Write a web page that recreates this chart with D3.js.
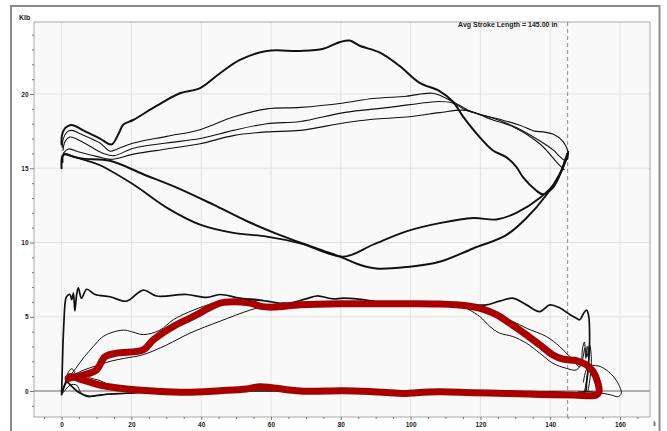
<!DOCTYPE html>
<html>
<head>
<meta charset="utf-8">
<script src="https://cdn.jsdelivr.net/npm/d3@7"></script>
<style>
  html, body { margin: 0; padding: 0; background: #fff; }
  svg { display: block; font-family: "Liberation Sans", Arial, sans-serif; }
</style>
</head>
<body>
<svg id="chart" width="667" height="431"></svg>
<script>
// ---- Axis ticks ----
const xMajorTicks = [0, 20, 40, 60, 80, 100, 120, 140, 160];
const yMajorTicks = [0, 5, 10, 15, 20];
const avgStroke = 145.0;

// ---- Surface cards (position in, load Klb) ----
const surfacePeak = [[0,16.6],[0.1,17.2],[1,17.7],[2.4,17.9],[3.9,17.85],[5.8,17.6],[11,17.0],[14.3,16.6],[16.3,17.3],[17.7,17.95],[20.5,18.25],[27.2,19.2],[33.9,20.05],[39.7,20.4],[45.4,21.4],[51.1,22.3],[58.8,22.9],[68.4,22.9],[75,23.05],[79.8,23.5],[82.5,23.6],[85.4,23.25],[91.1,22.8],[96.8,21.9],[102.6,20.75],[108.3,20.2],[112.1,19.5],[115,18.5],[119.8,17.1],[123.6,16.2],[127.4,15.75],[130.3,15.1],[132.2,14.4],[136,13.5],[137.9,13.25],[140.8,13.7],[143.2,14.8],[144.6,15.75],[145,16.0]];
const surfaceMid1 = [[0.2,16.4],[0.5,17.0],[1.6,17.45],[2.9,17.55],[5.5,17.3],[11,16.7],[13.9,16.15],[16,16.3],[20.6,16.7],[30.1,17.15],[39.7,17.6],[49.2,18.45],[58.8,19.0],[68.4,19.1],[80.8,19.4],[89.2,19.7],[98.8,19.85],[106.4,20.05],[112,19.5],[118,18.75],[125.5,18.3],[131.3,17.9],[135.5,17.5],[138,17.45],[140.8,17.3],[143.7,16.8],[145.1,16.1],[145,15.6]];
const surfaceMid2 = [[0.4,16.2],[1,16.8],[2.4,17.1],[4,17.0],[8,16.5],[12,16.0],[15,15.85],[20.6,16.35],[30.1,16.7],[39.7,17.0],[49.2,17.55],[58.8,18.0],[68.4,18.15],[80.8,18.75],[94,19.1],[108.3,19.5],[112,19.4],[116,18.9],[122.7,18.45],[130.3,17.75],[137,16.85],[141,16.2],[142.7,15.8],[144.2,15.5]];
const surfaceMid3 = [[0.5,16.0],[2,16.3],[5,16.1],[10,15.8],[14,15.6],[20.6,15.95],[30.1,16.3],[39.7,16.65],[49.2,17.2],[58.8,17.45],[68.4,17.55],[80.8,18.05],[89.2,18.3],[98.8,18.45],[108.3,18.75],[116,18.9],[123.6,18.25],[129.3,17.8],[137,16.65],[142.3,15.3],[144,14.9]];
const surfaceLow1 = [[0,15.0],[0.3,15.85],[1.4,15.95],[3,15.8],[6.2,15.65],[13.9,15.5],[23.4,14.6],[33,13.7],[43.5,12.55],[53,11.45],[62.6,10.5],[73.1,9.6],[80.8,8.95],[85.4,8.5],[90.2,8.25],[98.8,8.35],[108.3,8.7],[117.9,9.6],[127.4,10.5],[133.2,11.65],[138.9,13.2],[142.7,14.6],[144.6,15.6],[145,16.0]];
const surfaceLow2 = [[0.3,15.4],[0.6,15.95],[2.5,15.85],[6,15.6],[11,15.2],[20.6,13.9],[30.1,12.35],[39.7,11.2],[49.2,10.65],[58.8,10.4],[68.4,9.95],[80.8,9.05],[89.2,9.85],[98.8,10.75],[108.3,11.3],[117.9,11.65],[124.6,11.55],[130.3,12.0],[137,13.0],[141.8,14.15],[144.6,15.75],[145.2,16.1]];

// ---- Downhole cards ----
const downholeTop = [[0,-0.25],[0.2,1.5],[0.4,3.2],[0.7,4.8],[1.0,5.9],[1.4,6.35],[2.4,6.5],[2.9,6.15],[3.4,6.6],[3.8,5.4],[4.3,6.45],[4.8,6.95],[5.7,6.25],[7.2,6.85],[9.6,6.5],[13.9,6.35],[18.6,6.05],[23.4,6.8],[27.2,6.4],[35.8,6.5],[41.6,6.3],[45.4,6.5],[51.1,6.25],[58.8,6.05],[64.5,5.9],[70,6.2],[73.1,6.4],[77.9,6.2],[80.8,6.25],[89.2,6.05],[94,5.8],[98.8,5.9],[108.3,5.9],[117.9,5.8],[121.7,5.8],[125.5,6.05],[129.3,6.25],[133.2,5.8],[137,5.35],[139.9,5.8],[142.7,5.6],[145.6,5.15],[147.5,4.9],[148.5,4.8],[149.5,5.2],[150.4,5.45],[151,5.1],[151.3,3.5],[151,1.8],[150.4,0.5],[150,-0.05],[140,-0.05],[130,-0.1],[120,-0.1],[110,-0.05],[100,0],[90,-0.05],[80,0],[60,0],[45,0],[35,-0.05],[25,-0.05],[18.6,-0.15],[13.9,-0.2],[10.2,-0.3],[7.6,-0.35],[5,-0.1],[3,0.3],[1.5,0.6],[0.6,0.2],[0,-0.25]];
const downholeMid1 = [[0.5,0.3],[2,0.9],[4,1.5],[6.5,2.3],[9.1,3.0],[11.5,3.6],[13.9,3.9],[17.7,4.1],[20,4.0],[23.4,3.8],[28.2,4.1],[32,4.8],[37.8,5.45],[43.5,5.9],[49.2,6.1],[55,6.2],[58,6.1]];
const downholeMid2 = [[1,0.6],[3,1.0],[6.2,1.4],[10,1.7],[13.9,2.0],[18,2.2],[23.4,2.45],[30.1,3.1],[36.8,3.9],[45.4,4.7],[54,5.45],[58.8,5.75],[64,5.95]];
const downholeDown1 = [[116,5.8],[120.7,5.36],[124.6,5.02],[129.3,4.68],[133.2,4.23],[138.9,3.67],[142.7,3.0],[145.6,2.32],[148.5,1.64],[149.3,2.9],[149.8,3.3],[150.2,2.2],[150.6,3.0],[151,2.4],[150.5,0.8],[149.8,-0.05]];
const downholeDown2 = [[114,5.85],[119.8,5.02],[122.7,4.35],[125.5,3.9],[129.3,3.67],[133.2,3.22],[137,2.55],[140.8,1.87],[144.6,1.53],[147.5,1.42],[149,1.9],[150,2.9],[150.5,2.3],[151.3,3.1],[151.8,2.2],[151.5,1.0],[150.8,-0.05]];
const downholeTail = [[149.5,0.6],[150.9,1.64],[153.7,1.69],[156.1,1.42],[158.5,0.86],[159.9,0.29],[160.4,-0.16],[159.5,-0.38],[157.5,-0.27],[155.2,-0.16],[152,-0.05],[148,-0.05]];
const downholeStart1 = [[0.2,-0.2],[1,0.5],[2,1.3],[3,1.5],[4.3,1.1],[6.2,1.2],[8,0.9],[11,0.7],[13.9,0.4],[17,0.2],[22,0.05]];
const downholeStart2 = [[0.5,-0.1],[2.5,0.4],[4.3,0.4],[5.5,-0.1],[7.2,-0.38],[9,-0.35],[11,-0.27],[14,-0.2],[18.6,-0.15],[25,-0.1]];

// ---- Highlighted downhole card ----
const currentCard = [[1.9,0.85],[6.2,1.08],[10,1.42],[12.4,2.3],[15.8,2.55],[23.4,2.77],[26.3,3.45],[32,4.35],[37.8,5.02],[43.5,5.74],[46.4,5.97],[54,5.92],[57,5.7],[60.7,5.65],[68.4,5.81],[80.8,5.88],[89.2,5.88],[98.8,5.88],[108.3,5.86],[116,5.74],[120.7,5.52],[124.6,5.14],[128.4,4.57],[133.2,3.78],[137,3.11],[140.8,2.43],[143.7,2.14],[147.5,2.05],[150.4,1.76],[152.3,1.31],[153.7,0.52],[154,-0.05],[153.2,-0.27],[146.6,-0.27],[137,-0.23],[127.4,-0.16],[117.9,-0.11],[108.3,-0.05],[101.6,-0.11],[98.8,-0.16],[94,-0.11],[89.2,-0.05],[80.8,0.02],[68.4,0],[56.9,0.29],[53,0.14],[45.4,0.02],[35.8,-0.09],[26.3,0],[18.6,0.14],[11,0.4],[6.2,0.74],[2.4,0.97],[1.9,0.85]];

// ---- Layout ----
const svg = d3.select("#chart");
const plot = { left: 34, top: 22, right: 650, bottom: 417 };

const x = d3.scaleLinear().domain([-7.9, 168.6]).range([plot.left, plot.right]);
const y = d3.scaleLinear().domain([-1.75, 24.85]).range([plot.bottom, plot.top]);

// outer frame
svg.append("rect")
  .attr("x", 11).attr("y", 6).attr("width", 648.5).attr("height", 440)
  .attr("fill", "#fff").attr("stroke", "#8a8a8a").attr("stroke-width", 2);

// plot background
svg.append("rect")
  .attr("x", plot.left).attr("y", plot.top)
  .attr("width", plot.right - plot.left).attr("height", plot.bottom - plot.top)
  .attr("fill", "#f9f9f9");

svg.append("clipPath").attr("id", "plotClip")
  .append("rect")
  .attr("x", plot.left).attr("y", plot.top)
  .attr("width", plot.right - plot.left).attr("height", plot.bottom - plot.top);

// grid
const grid = svg.append("g");
grid.selectAll("line.vx").data(xMajorTicks).join("line")
  .attr("x1", d => x(d)).attr("x2", d => x(d))
  .attr("y1", plot.top).attr("y2", plot.bottom)
  .attr("stroke", "#e2e2e2").attr("stroke-width", 1);
grid.selectAll("line.hy").data(yMajorTicks).join("line")
  .attr("x1", plot.left).attr("x2", plot.right)
  .attr("y1", d => y(d)).attr("y2", d => y(d))
  .attr("stroke", d => d === 0 ? "#666" : "#e2e2e2").attr("stroke-width", 1);

// plot border
svg.append("rect")
  .attr("x", plot.left).attr("y", plot.top)
  .attr("width", plot.right - plot.left).attr("height", plot.bottom - plot.top)
  .attr("fill", "none").attr("stroke", "#a8a8a8").attr("stroke-width", 1);

// axes
const fontStyle = sel => sel.selectAll("text")
  .attr("font-size", "6.5px").attr("font-weight", "bold").attr("fill", "#222");

const yMinor = d3.range(-1, 25, 1).filter(v => !yMajorTicks.includes(v));
svg.append("g").attr("transform", `translate(${plot.left},0)`)
  .call(d3.axisLeft(y).tickValues(yMinor).tickSize(2).tickFormat(""))
  .call(g => g.select(".domain").remove())
  .call(g => g.selectAll("line").attr("stroke", "#777"));
svg.append("g").attr("transform", `translate(${plot.left},0)`)
  .call(d3.axisLeft(y).tickValues(yMajorTicks).tickSize(4).tickPadding(1.5))
  .call(g => g.select(".domain").remove())
  .call(g => g.selectAll("line").attr("stroke", "#777"))
  .call(fontStyle);

const xMinor = d3.range(-5, 170, 5).filter(v => !xMajorTicks.includes(v));
svg.append("g").attr("transform", `translate(0,${plot.bottom})`)
  .call(d3.axisBottom(x).tickValues(xMinor).tickSize(2).tickFormat(""))
  .call(g => g.select(".domain").remove())
  .call(g => g.selectAll("line").attr("stroke", "#777"));
svg.append("g").attr("transform", `translate(0,${plot.bottom})`)
  .call(d3.axisBottom(x).tickValues(xMajorTicks).tickSize(3).tickPadding(2))
  .call(g => g.select(".domain").remove())
  .call(g => g.selectAll("line").attr("stroke", "#777"))
  .call(fontStyle);

// axis units
svg.append("text").attr("x", 19).attr("y", 19.5)
  .attr("font-size", "7px").attr("font-weight", "bold").attr("fill", "#222")
  .text("Klb");
svg.append("clipPath").attr("id", "unitClip")
  .append("rect").attr("x", 640).attr("y", 410).attr("width", 15.6).attr("height", 21);
svg.append("text").attr("x", 653.3).attr("y", 426)
  .attr("clip-path", "url(#unitClip)")
  .attr("font-size", "6.5px").attr("font-weight", "bold").attr("fill", "#222")
  .text("in");

// stroke length marker
svg.append("line")
  .attr("x1", x(avgStroke)).attr("x2", x(avgStroke))
  .attr("y1", plot.top).attr("y2", plot.bottom)
  .attr("stroke", "#8c8c8c").attr("stroke-width", 1).attr("stroke-dasharray", "4,3");
svg.append("text")
  .attr("x", x(avgStroke) - 10).attr("y", 27)
  .attr("text-anchor", "end")
  .attr("font-size", "7px").attr("font-weight", "bold").attr("fill", "#222")
  .text(`Avg Stroke Length = ${avgStroke.toFixed(2)} in`);

// cards
const line = d3.line().x(d => x(d[0])).y(d => y(d[1])).curve(d3.curveCatmullRom.alpha(0.5));
const cards = svg.append("g").attr("clip-path", "url(#plotClip)")
  .attr("fill", "none").attr("stroke-linejoin", "round").attr("stroke-linecap", "round");

const blackSeries = [
  { d: surfacePeak, w: 2.0 },
  { d: surfaceMid1, w: 1.1 },
  { d: surfaceMid2, w: 1.1 },
  { d: surfaceMid3, w: 1.1 },
  { d: surfaceLow1, w: 2.0 },
  { d: surfaceLow2, w: 1.8 },
  { d: downholeTop, w: 1.7 },
  { d: downholeMid1, w: 1.0 },
  { d: downholeMid2, w: 1.0 },
  { d: downholeDown1, w: 1.0 },
  { d: downholeDown2, w: 1.0 },
  { d: downholeTail, w: 1.0 },
  { d: downholeStart1, w: 1.0 },
  { d: downholeStart2, w: 1.0 }
];
cards.selectAll("path.black").data(blackSeries).join("path")
  .attr("d", s => line(s.d))
  .attr("stroke", "#111").attr("stroke-width", s => s.w);

cards.append("path")
  .attr("d", line(currentCard))
  .attr("stroke", "#a80000").attr("stroke-width", 7);
</script>
</body>
</html>
